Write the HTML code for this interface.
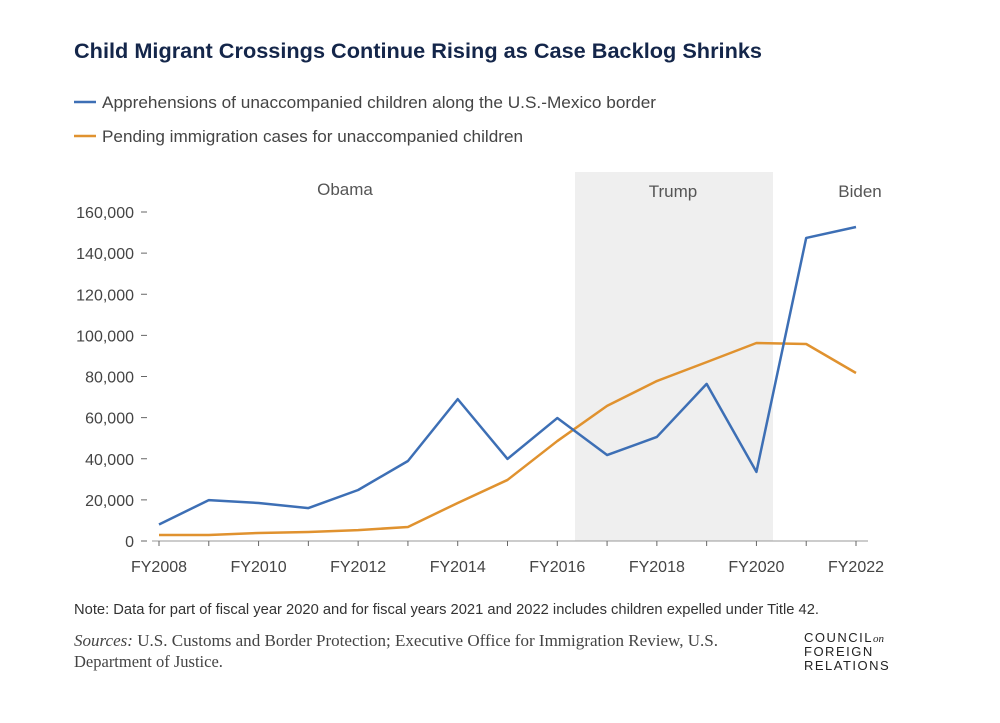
<!DOCTYPE html>
<html><head><meta charset="utf-8"><style>
body{margin:0;background:#fff;width:1000px;height:718px;overflow:hidden;font-family:"Liberation Sans",sans-serif}
</style></head><body>
<svg width="1000" height="718" xmlns="http://www.w3.org/2000/svg">
<text x="74" y="58" font-size="21" font-weight="bold" fill="#14264a" textLength="688" lengthAdjust="spacingAndGlyphs">Child Migrant Crossings Continue Rising as Case Backlog Shrinks</text>
<g>
<line x1="74" y1="102" x2="96" y2="102" stroke="#3d6fb5" stroke-width="2.5"/>
<text x="102" y="108" font-size="17" fill="#444" textLength="554" lengthAdjust="spacingAndGlyphs">Apprehensions of unaccompanied children along the U.S.-Mexico border</text>
<line x1="74" y1="136" x2="96" y2="136" stroke="#e0922f" stroke-width="2.5"/>
<text x="102" y="142" font-size="17" fill="#444" textLength="421" lengthAdjust="spacingAndGlyphs">Pending immigration cases for unaccompanied children</text>
</g>
<rect x="575" y="172" width="198" height="369" fill="#efefef"/>
<text x="345" y="195" font-size="17" fill="#555" text-anchor="middle">Obama</text>
<text x="673" y="197" font-size="17" fill="#555" text-anchor="middle">Trump</text>
<text x="860" y="197" font-size="17" fill="#555" text-anchor="middle">Biden</text>
<g id="axes"></g>
<g id="series"></g>
<text x="74" y="614" font-size="14.5" fill="#333" textLength="745" lengthAdjust="spacingAndGlyphs">Note: Data for part of fiscal year 2020 and for fiscal years 2021 and 2022 includes children expelled under Title 42.</text>
<text x="74" y="646" font-size="16.5" fill="#444" font-family="Liberation Serif, serif" textLength="644" lengthAdjust="spacingAndGlyphs"><tspan font-style="italic">Sources:</tspan> U.S. Customs and Border Protection; Executive Office for Immigration Review, U.S.</text>
<text x="74" y="667" font-size="16.5" fill="#444" font-family="Liberation Serif, serif">Department of Justice.</text>
<g font-size="13" fill="#222" letter-spacing="1.5">
<text x="804" y="642">COUNCIL<tspan font-family="Liberation Serif, serif" font-style="italic" font-size="11" letter-spacing="0">on</tspan></text>
<text x="804" y="656">FOREIGN</text>
<text x="804" y="670">RELATIONS</text>
</g>
</svg>
<script>
const years=[2008,2009,2010,2011,2012,2013,2014,2015,2016,2017,2018,2019,2020,2021,2022];
const apprehensions=[8000,19900,18500,16000,24800,38900,69000,39900,59800,41800,50600,76400,33600,147400,152700];
const pending=[2900,2900,3900,4400,5300,6800,18500,29700,48600,65700,77800,87000,96300,95800,81700];
const yTicks=[0,20000,40000,60000,80000,100000,120000,140000,160000];
const xTickYears=[2008,2010,2012,2014,2016,2018,2020,2022];
const NS="http://www.w3.org/2000/svg";
const x=y=>159+(y-2008)*(856-159)/14;
const yS=v=>541-v*(541-212)/160000;
function mk(t,a,p){const e=document.createElementNS(NS,t);for(const k in a)e.setAttribute(k,a[k]);p.appendChild(e);return e;}
const ax=document.getElementById('axes');
const xl=mk('line',{x1:152,y1:541,x2:868,y2:541,stroke:'#999','stroke-width':1},ax);


yTicks.forEach(v=>{
const t=mk('text',{x:134,y:yS(v)+6,'font-size':16,fill:'#444','text-anchor':'end'},ax);
t.textContent=v.toLocaleString('en-US');


const l=mk('line',{x1:141,y1:yS(v),x2:147,y2:yS(v),stroke:'#666'},ax);


});
years.forEach(y=>{
const l=mk('line',{x1:x(y),y1:541,x2:x(y),y2:546,stroke:'#666'},ax);


});
xTickYears.forEach(y=>{
const t=mk('text',{x:x(y),y:572,'font-size':16,fill:'#444','text-anchor':'middle'},ax);
t.textContent='FY'+y;


});
const sg=document.getElementById('series');
[[pending,'#e0922f','pending-cases-line'],[apprehensions,'#3d6fb5','apprehensions-line']].forEach(([d,c,n])=>{
const p=mk('polyline',{points:d.map((v,i)=>x(years[i])+','+yS(v)).join(' '),fill:'none',stroke:c,'stroke-width':2.5,'stroke-linejoin':'round'},sg);


});
</script>
</body></html>
